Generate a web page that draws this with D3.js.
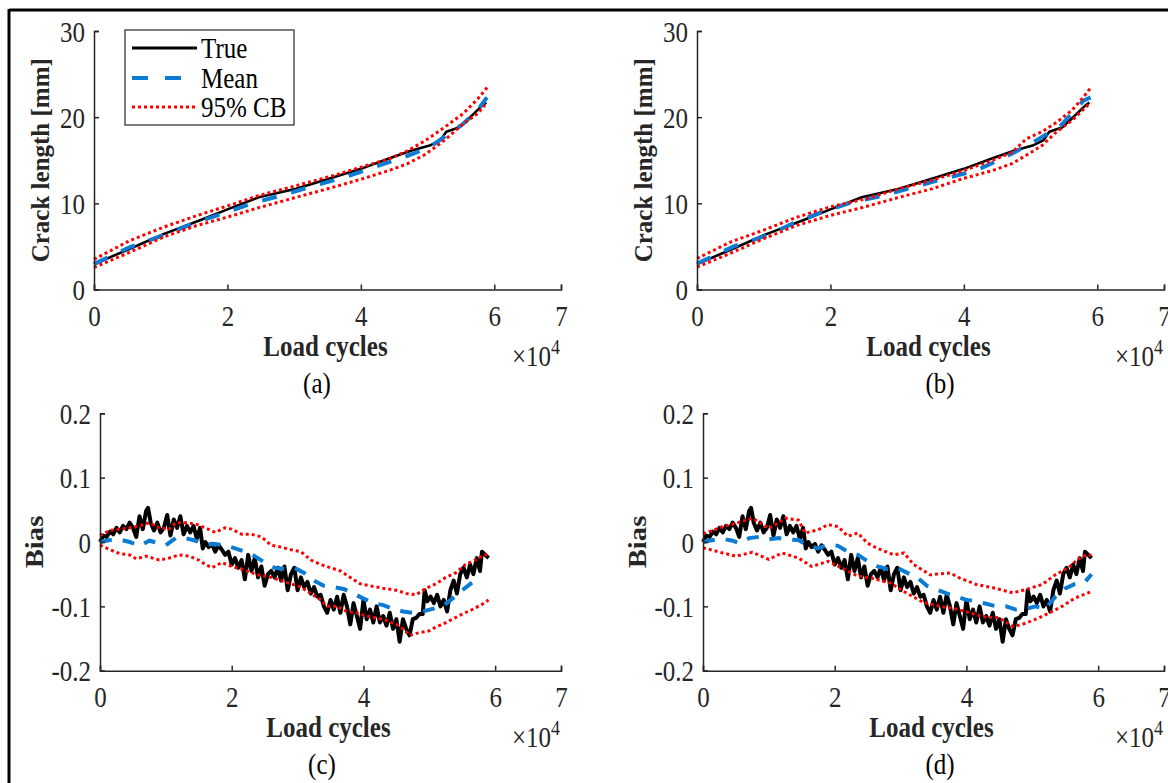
<!DOCTYPE html>
<html><head><meta charset="utf-8">
<script src="https://cdn.jsdelivr.net/npm/d3@7"></script>
<style>body{margin:0;background:#fff}svg{display:block}</style>
</head><body>
<svg id="c" width="1168" height="783"></svg>
<script>
// x values are load cycles in units of 10^4
const xTicks = [0, 2, 4, 6, 7];
const crackTicks = [0, 10, 20, 30];
const biasTicks = [-0.2, -0.1, 0, 0.1, 0.2];
const legendLabels = ["True", "Mean", "95% CB"];
const panelLabels = ["(a)", "(b)", "(c)", "(d)"];

const trueCrack = [[0,2.95],[0.53,4.7],[1.03,6.4],[1.58,8.0],[2.0,9.3],[2.47,10.7],[3.03,11.7],[3.58,13.0],[4.0,14.0],[4.42,15.2],[4.75,16.1],[5.03,16.7],[5.19,17.3],[5.28,18.3],[5.47,18.8],[5.64,20.0],[5.8,21.2],[5.88,21.7]];
const meanCrackA = [[0,2.95],[0.53,4.9],[1.03,6.25],[1.53,7.8],[2.0,9.0],[2.37,10.0],[2.8,10.9],[3.3,12.05],[3.75,13.0],[4.2,14.2],[4.7,15.5],[5.03,16.5],[5.25,17.7],[5.53,19.2],[5.75,20.8],[5.89,22.3]];
const upperCrackA = [[0,3.5],[0.53,5.65],[1.03,7.2],[1.53,8.55],[2.0,9.7],[2.47,10.9],[3.03,12.05],[3.58,13.2],[4.0,14.2],[4.42,15.15],[4.7,16.1],[4.97,17.3],[5.25,18.8],[5.53,20.4],[5.75,22.1],[5.92,23.7]];
const lowerCrackA = [[0,2.55],[0.53,4.3],[1.03,6.05],[1.53,7.4],[2.0,8.4],[2.47,9.5],[3.03,10.7],[3.58,11.85],[4.0,12.8],[4.42,13.8],[4.7,14.6],[4.97,15.7],[5.25,17.3],[5.53,19.2],[5.75,20.4],[5.86,21.4]];
const meanCrackB = [[0,3.0],[0.55,5.0],[1.06,6.3],[1.45,7.7],[1.84,8.9],[2.35,10.2],[2.8,10.9],[3.25,11.9],[3.73,12.9],[4.18,13.8],[4.63,15.4],[4.998,16.9],[5.45,19.0],[5.79,21.9],[5.9,22.3]];
const upperCrackB = [[0,3.6],[0.5,5.5],[1.0,6.9],[1.5,8.4],[2.0,9.6],[2.52,10.5],[3.03,11.7],[3.53,12.7],[4.0,13.8],[4.43,15.0],[4.72,15.9],[4.94,17.5],[5.17,18.3],[5.39,19.4],[5.62,20.8],[5.79,22.3],[5.9,23.4]];
const lowerCrackB = [[0,2.6],[0.5,4.2],[1.0,5.9],[1.5,7.45],[2.0,8.6],[2.52,9.6],[3.03,10.7],[3.53,11.7],[4.0,12.9],[4.43,13.8],[4.72,14.6],[4.94,15.6],[5.17,16.7],[5.39,18.3],[5.62,19.6],[5.9,21.7]];

const trueBias = [[0,0],[0.05,0.01],[0.1,0.008],[0.15,0.016],[0.2,0.012],[0.25,0.022],[0.3,0.015],[0.35,0.025],[0.4,0.02],[0.45,0.03],[0.5,0.022],[0.55,0.008],[0.6,0.04],[0.65,0.02],[0.7,0.048],[0.73,0.053],[0.77,0.03],[0.82,0.018],[0.87,0.03],[0.92,0.015],[0.97,0.022],[1.02,0.042],[1.07,0.01],[1.12,0.035],[1.17,0.022],[1.22,0.04],[1.27,0.012],[1.32,0.025],[1.37,0.015],[1.42,0.025],[1.47,0.005],[1.52,0.022],[1.56,-0.01],[1.6,0],[1.65,-0.008],[1.7,-0.003],[1.75,-0.015],[1.8,-0.005],[1.85,-0.012],[1.9,-0.02],[1.95,-0.015],[2.0,-0.035],[2.05,-0.025],[2.1,-0.04],[2.15,-0.028],[2.2,-0.058],[2.25,-0.02],[2.3,-0.045],[2.35,-0.025],[2.4,-0.055],[2.45,-0.038],[2.5,-0.068],[2.55,-0.05],[2.6,-0.045],[2.65,-0.055],[2.7,-0.04],[2.75,-0.06],[2.8,-0.038],[2.85,-0.075],[2.9,-0.05],[2.95,-0.04],[3.0,-0.075],[3.05,-0.055],[3.1,-0.07],[3.15,-0.062],[3.2,-0.08],[3.25,-0.07],[3.3,-0.085],[3.35,-0.082],[3.4,-0.1],[3.45,-0.11],[3.5,-0.09],[3.55,-0.105],[3.6,-0.085],[3.65,-0.11],[3.7,-0.082],[3.75,-0.1],[3.8,-0.128],[3.85,-0.095],[3.9,-0.115],[3.95,-0.135],[4.0,-0.09],[4.05,-0.12],[4.1,-0.105],[4.15,-0.125],[4.2,-0.1],[4.25,-0.125],[4.3,-0.115],[4.35,-0.13],[4.4,-0.11],[4.45,-0.135],[4.5,-0.12],[4.55,-0.155],[4.6,-0.12],[4.65,-0.135],[4.7,-0.145],[4.75,-0.12],[4.8,-0.118],[4.85,-0.112],[4.9,-0.112],[4.93,-0.075],[4.97,-0.092],[5.02,-0.085],[5.07,-0.095],[5.12,-0.082],[5.17,-0.1],[5.22,-0.09],[5.27,-0.108],[5.32,-0.075],[5.37,-0.06],[5.42,-0.08],[5.47,-0.05],[5.52,-0.04],[5.57,-0.055],[5.62,-0.035],[5.67,-0.05],[5.72,-0.025],[5.77,-0.045],[5.8,-0.015],[5.85,-0.02],[5.9,-0.025]];
const meanBiasC = [[0,0],[0.15,0.003],[0.3,0.004],[0.45,0],[0.6,-0.006],[0.75,0.002],[0.9,-0.002],[1.0,-0.005],[1.15,0.006],[1.3,0.006],[1.45,0.002],[1.6,-0.004],[1.75,-0.003],[1.9,-0.005],[2.05,-0.01],[2.2,-0.015],[2.35,-0.022],[2.5,-0.032],[2.65,-0.04],[2.8,-0.042],[2.95,-0.04],[3.1,-0.048],[3.25,-0.06],[3.4,-0.068],[3.55,-0.07],[3.7,-0.073],[3.85,-0.08],[4.0,-0.088],[4.15,-0.095],[4.3,-0.098],[4.45,-0.104],[4.6,-0.108],[4.75,-0.11],[4.9,-0.108],[5.05,-0.104],[5.2,-0.1],[5.35,-0.088],[5.5,-0.075],[5.65,-0.063],[5.8,-0.057]];
const upperBiasC = [[0,0.01],[0.15,0.018],[0.3,0.02],[0.45,0.022],[0.6,0.025],[0.75,0.03],[0.9,0.022],[1.05,0.02],[1.15,0.03],[1.3,0.03],[1.45,0.028],[1.6,0.022],[1.75,0.015],[1.9,0.022],[2.0,0.02],[2.15,0.012],[2.3,0.012],[2.45,0.008],[2.6,-0.005],[2.75,-0.008],[2.9,-0.012],[3.05,-0.015],[3.2,-0.028],[3.35,-0.035],[3.5,-0.04],[3.65,-0.045],[3.8,-0.055],[3.95,-0.065],[4.1,-0.068],[4.3,-0.072],[4.5,-0.075],[4.65,-0.08],[4.8,-0.082],[4.95,-0.072],[5.1,-0.065],[5.25,-0.055],[5.4,-0.048],[5.55,-0.035],[5.7,-0.028],[5.8,-0.022],[5.9,-0.018]];
const lowerBiasC = [[0,-0.005],[0.15,-0.012],[0.3,-0.018],[0.45,-0.02],[0.55,-0.026],[0.7,-0.022],[0.9,-0.028],[1.05,-0.025],[1.2,-0.02],[1.35,-0.022],[1.5,-0.028],[1.6,-0.035],[1.7,-0.04],[1.85,-0.032],[2.0,-0.038],[2.15,-0.042],[2.3,-0.048],[2.45,-0.052],[2.6,-0.055],[2.75,-0.06],[2.9,-0.065],[3.05,-0.07],[3.2,-0.08],[3.35,-0.09],[3.45,-0.1],[3.6,-0.1],[3.75,-0.108],[3.9,-0.11],[4.05,-0.115],[4.2,-0.118],[4.35,-0.122],[4.5,-0.128],[4.6,-0.135],[4.7,-0.145],[4.8,-0.142],[4.9,-0.14],[5.0,-0.138],[5.1,-0.132],[5.2,-0.128],[5.35,-0.12],[5.5,-0.112],[5.65,-0.105],[5.8,-0.097],[5.9,-0.09]];
const meanBiasD = [[0,0],[0.15,0.003],[0.3,0.005],[0.45,0.002],[0.55,-0.002],[0.7,0.006],[0.85,0.008],[1.0,0.004],[1.15,0.006],[1.3,0.004],[1.45,0.003],[1.6,-0.006],[1.75,-0.01],[1.9,-0.004],[2.05,-0.006],[2.2,-0.015],[2.35,-0.02],[2.5,-0.03],[2.65,-0.038],[2.8,-0.042],[2.95,-0.04],[3.1,-0.048],[3.25,-0.055],[3.4,-0.068],[3.55,-0.074],[3.7,-0.08],[3.85,-0.085],[4.0,-0.09],[4.15,-0.092],[4.3,-0.096],[4.45,-0.1],[4.6,-0.1],[4.75,-0.105],[4.9,-0.104],[5.05,-0.1],[5.2,-0.104],[5.35,-0.085],[5.5,-0.072],[5.65,-0.065],[5.8,-0.062],[5.9,-0.05]];
const upperBiasD = [[0,0.013],[0.15,0.018],[0.3,0.024],[0.5,0.029],[0.75,0.037],[0.9,0.028],[1.0,0.021],[1.15,0.03],[1.25,0.037],[1.45,0.034],[1.55,0.014],[1.75,0.019],[1.9,0.027],[2.05,0.024],[2.2,0.009],[2.35,0.014],[2.5,-0.002],[2.65,-0.01],[2.9,-0.02],[3.05,-0.017],[3.2,-0.035],[3.45,-0.051],[3.75,-0.048],[3.9,-0.056],[4.15,-0.066],[4.4,-0.071],[4.7,-0.079],[4.9,-0.074],[5.15,-0.066],[5.35,-0.051],[5.55,-0.04],[5.75,-0.022],[5.9,-0.02]];
const lowerBiasD = [[0,-0.009],[0.3,-0.017],[0.5,-0.022],[0.75,-0.016],[1.0,-0.027],[1.2,-0.017],[1.45,-0.025],[1.65,-0.038],[1.9,-0.03],[2.1,-0.04],[2.35,-0.053],[2.55,-0.056],[2.85,-0.064],[3.05,-0.077],[3.35,-0.094],[3.6,-0.1],[3.8,-0.103],[4.05,-0.11],[4.25,-0.116],[4.5,-0.118],[4.7,-0.131],[4.85,-0.128],[5.1,-0.118],[5.3,-0.108],[5.45,-0.1],[5.65,-0.087],[5.9,-0.077]];

const svg = d3.select("#c");
const FONT = "'Liberation Serif','Times New Roman',serif";
const AX = "#262626";
const BLUE = "#0b7bd3";
const FS = "25px";
const SY = 1.15;   // vertical stretch of glyphs seen in the reference

// outer frame (left and top visible)
svg.append("line").attr("x1",9).attr("x2",9).attr("y1",9).attr("y2",783).attr("stroke","#000").attr("stroke-width",3);
svg.append("line").attr("x1",9).attr("x2",1168).attr("y1",10).attr("y2",10).attr("stroke","#000").attr("stroke-width",3);

function txt(parent, x, y, s, opts={}) {
  const t = parent.append("text")
    .attr("transform", opts.rotate ? `translate(${x},${y}) rotate(-90) scale(${opts.sx||1},1)` : `translate(${x},${y}) scale(1,${SY})`)
    .attr("text-anchor", opts.anchor || "middle").attr("dy","0.35em")
    .style("font-family",FONT).style("font-size",opts.fs||FS)
    .style("font-weight",opts.bold?"bold":"normal").attr("fill",opts.fill||AX);
  t.text(s);
  return t;
}

const panels = [
  {x0:94, x1:561, yT:31, yB:289.5, dom:[0,30], ticks:crackTicks, ylab:"Crack length [mm]", ylx:40, ysx:1.0, lab:panelLabels[0], labx:317,
   series:[trueCrack, meanCrackA, upperCrackA, lowerCrackA], tw:2.6, legend:true},
  {x0:697, x1:1164, yT:31, yB:289.5, dom:[0,30], ticks:crackTicks, ylab:"Crack length [mm]", ylx:643, ysx:1.0, lab:panelLabels[1], labx:940,
   series:[trueCrack, meanCrackB, upperCrackB, lowerCrackB], tw:2.6},
  {x0:100, x1:561, yT:413.3, yB:670.7, dom:[-0.2,0.2], ticks:biasTicks, ylab:"Bias", ylx:34, ysx:1.15, lab:panelLabels[2], labx:322,
   series:[trueBias, meanBiasC, upperBiasC, lowerBiasC], tw:4, bias:true},
  {x0:703, x1:1164, yT:413.3, yB:670.7, dom:[-0.2,0.2], ticks:biasTicks, ylab:"Bias", ylx:637, ysx:1.15, lab:panelLabels[3], labx:940,
   series:[trueBias, meanBiasD, upperBiasD, lowerBiasD], tw:4, bias:true}
];

const fmtBias = d => d === 0 ? "0" : d3.format(".1f")(d).replace("\u2212", "-");

panels.forEach(p => {
  const x = d3.scaleLinear().domain([0,7]).range([p.x0, p.x1]);
  const y = d3.scaleLinear().domain(p.dom).range([p.yB, p.yT]);
  const g = svg.append("g");
  const line = d3.line().x(d=>x(d[0])).y(d=>y(d[1]));

  // data
  g.append("path").datum(p.series[0]).attr("d", line).attr("fill","none").attr("stroke","#000").attr("stroke-width",p.tw).attr("stroke-linejoin","round");
  g.append("path").datum(p.series[1]).attr("d", line).attr("fill","none").attr("stroke",BLUE).attr("stroke-width",4).attr("stroke-dasharray", p.bias?"12 11":"15 15");
  [p.series[2], p.series[3]].forEach(s => {
    g.append("path").datum(s).attr("d", line).attr("fill","none").attr("stroke","#ff0000").attr("stroke-width",3).attr("stroke-dasharray","3 3");
  });

  // axes
  const xa = g.append("g").attr("transform",`translate(0,${p.yB})`)
    .call(d3.axisBottom(x).tickValues(xTicks).tickSize(-5).tickFormat(d3.format("d")));
  const ya = g.append("g").attr("transform",`translate(${p.x0},0)`)
    .call(d3.axisLeft(y).tickValues(p.ticks).tickSize(-5).tickPadding(9).tickFormat(d => p.bias ? fmtBias(d) : d));
  [xa, ya].forEach(a => {
    a.select(".domain").attr("stroke",AX).attr("stroke-width",1.5);
    a.selectAll(".tick line").attr("stroke",AX).attr("stroke-width",1.5);
    a.selectAll(".tick text").attr("fill",AX).style("font-family",FONT).style("font-size",FS);
  });
  xa.selectAll(".tick text").attr("y",0).attr("dy","0.35em").attr("transform",`translate(0,26) scale(1,${SY})`);
  ya.selectAll(".tick text").attr("y",0).attr("dy","0.35em").attr("transform",`scale(1,${SY})`);

  // labels
  txt(g, (p.x0+p.x1)/2 - 2, p.yB+56, "Load cycles", {bold:true});
  const ex = txt(g, p.x1-1, p.yB+66, "", {anchor:"end"});
  ex.append("tspan").text("\u00d710");
  ex.append("tspan").attr("dy",-10).style("font-size","18px").text("4");
  txt(g, p.ylx, (p.yT+p.yB)/2, p.ylab, {bold:true, rotate:true, sx:p.ysx});
  txt(g, p.labx, p.yB+93, p.lab, {fill:"#000"});

  if (p.legend) {
    const lg = svg.append("g");
    lg.append("rect").attr("x",125).attr("y",30).attr("width",169).attr("height",95).attr("fill","#fff").attr("stroke","#262626").attr("stroke-width",1.2);
    const rows = [48, 78, 107];
    const styles = [
      {c:"#000", w:3, da:null},
      {c:BLUE, w:4, da:"16 17"},
      {c:"#ff0000", w:3, da:"3 3"}
    ];
    legendLabels.forEach((t,i) => {
      const l = lg.append("line").attr("x1",132).attr("x2",197).attr("y1",rows[i]).attr("y2",rows[i])
        .attr("stroke",styles[i].c).attr("stroke-width",styles[i].w);
      if (styles[i].da) l.attr("stroke-dasharray",styles[i].da);
      txt(lg, 201, rows[i], t, {anchor:"start", fill:"#000"});
    });
  }
});
</script>
</body></html>
